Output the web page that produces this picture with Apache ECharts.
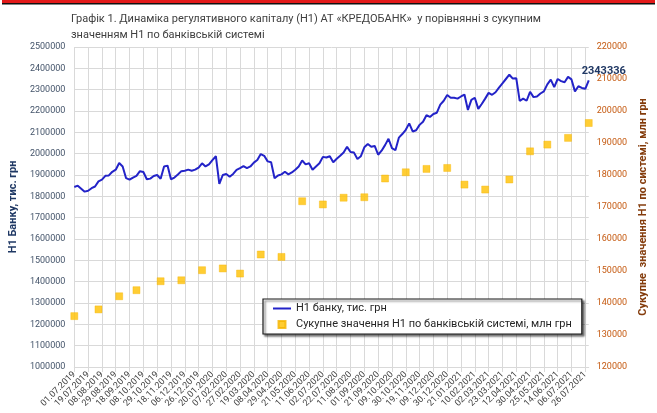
<!DOCTYPE html>
<html>
<head>
<meta charset="utf-8">
<script src="https://cdn.jsdelivr.net/npm/echarts@6/dist/echarts.min.js"></script>
<style>
    html, body { margin: 0; padding: 0; background: #fff; }
    #chart { width: 657px; height: 413px; }
</style>
</head>
<body>
<div id="chart"></div>
<script>
// підписи дат по осі X (кожні 14 робочих днів)
var dateLabels = [
    '01.07.2019', '19.07.2019', '08.08.2019', '29.08.2019', '18.09.2019', '08.10.2019',
    '29.10.2019', '18.11.2019', '06.12.2019', '26.12.2019', '20.01.2020', '07.02.2020',
    '27.02.2020', '19.03.2020', '08.04.2020', '29.04.2020', '21.05.2020', '11.06.2020',
    '02.07.2020', '22.07.2020', '11.08.2020', '01.09.2020', '21.09.2020', '09.10.2020',
    '30.10.2020', '19.11.2020', '09.12.2020', '30.12.2020', '21.01.2021', '10.02.2021',
    '02.03.2021', '23.03.2021', '12.04.2021', '30.04.2021', '25.05.2021', '14.06.2021',
    '06.07.2021', '26.07.2021'
];
var stepsPerLabel = 4;

// Н1 банку, тис. грн (приблизно кожні 3-4 робочі дні)
var h1Bank = [
    1844000, 1850000, 1836000, 1822000, 1826000, 1838000, 1846000, 1870000, 1878000, 1896000,
    1898000, 1915000, 1925000, 1956000, 1940000, 1885000, 1878000, 1888000, 1896000, 1918000,
    1914000, 1880000, 1883000, 1895000, 1900000, 1882000, 1940000, 1944000, 1880000, 1888000,
    1902000, 1918000, 1920000, 1925000, 1920000, 1925000, 1935000, 1955000, 1940000, 1950000,
    1970000, 1988000, 1858000, 1900000, 1905000, 1892000, 1905000, 1924000, 1932000, 1942000,
    1932000, 1940000, 1958000, 1970000, 1998000, 1990000, 1964000, 1960000, 1885000, 1898000,
    1903000, 1915000, 1903000, 1912000, 1925000, 1940000, 1968000, 1950000, 1955000, 1925000,
    1940000, 1955000, 1985000, 1982000, 1988000, 1960000, 1976000, 1990000, 2005000, 2032000,
    2008000, 2005000, 1975000, 1988000, 2030000, 2045000, 2032000, 2036000, 1995000, 2014000,
    2040000, 2070000, 2026000, 2016000, 2075000, 2092000, 2112000, 2142000, 2104000, 2110000,
    2135000, 2150000, 2180000, 2172000, 2186000, 2192000, 2230000, 2248000, 2275000, 2262000,
    2262000, 2258000, 2268000, 2277000, 2205000, 2252000, 2262000, 2210000, 2233000, 2258000,
    2285000, 2276000, 2288000, 2310000, 2330000, 2350000, 2370000, 2352000, 2354000, 2247000,
    2258000, 2248000, 2290000, 2265000, 2268000, 2282000, 2292000, 2325000, 2347000, 2312000,
    2350000, 2340000, 2335000, 2360000, 2348000, 2292000, 2316000, 2308000, 2304000, 2343336
];

// Сукупне значення Н1 по банківській системі, млн грн (щомісяця)
var systemAt = [0, 7, 13, 18, 25, 31, 37, 43, 48, 54, 60, 66, 72, 78, 84, 90, 96, 102, 108, 113, 119, 126, 132, 137, 143, 149];
var systemH1 = [
    135900, 138000, 142100, 144000, 146800, 147100, 150250, 150800, 149200, 155150,
    154400, 171800, 170800, 172900, 173050, 178900, 180850, 181900, 182200, 177000,
    175450, 178600, 187400, 189500, 191600, 196250
];

var bankName = 'Н1 банку, тис. грн';
var systemName = 'Сукупне значення Н1 по банківській системі, млн грн';
var fontName = 'Roboto, "Noto Sans", sans-serif';

var categories = [];
for (var i = 0; i < dateLabels.length; i++) {
    categories.push(dateLabels[i]);
    var pad = i < dateLabels.length - 1 ? stepsPerLabel - 1 : 1;
    for (var j = 0; j < pad; j++) {
        categories.push('');
    }
}

var systemData = systemH1.map(function (v, idx) {
    return [systemAt[idx], v];
});

var lastIdx = h1Bank.length - 1;

var isLabelTick = function (index) {
    return index % stepsPerLabel == 0;
};
var plainNumber = function (value) {
    return String(value);
};

var myChart = echarts.init(document.getElementById('chart'), null, { renderer: 'canvas' });
var option = {
    animation: false,
    backgroundColor: '#fff',
    textStyle: { fontFamily: fontName },
    title: {
        text: 'Графік 1. Динаміка регулятивного капіталу (Н1) АТ «КРЕДОБАНК»  у порівнянні з сукупним\nзначенням Н1 по банківській системі',
        left: 66,
        top: 6,
        textStyle: {
            fontSize: 11,
            fontWeight: 'normal',
            color: '#404040',
            lineHeight: 16,
            fontFamily: fontName
        }
    },
    // червона смуга вгорі
    graphic: [{
        type: 'rect',
        left: 2,
        top: 0,
        shape: { width: 653, height: 3 },
        style: { fill: '#e31a1a' },
        silent: true
    }, {
        type: 'rect',
        left: 2,
        top: 3,
        shape: { width: 653, height: 1.5 },
        style: { fill: '#111' },
        silent: true
    }],
    grid: {
        left: 64,
        right: 67,
        top: 47,
        bottom: 46
    },
    legend: {
        orient: 'vertical',
        left: 263,
        top: 299,
        padding: [4, 10, 4, 10],
        itemGap: 5,
        itemWidth: 18,
        itemHeight: 7,
        backgroundColor: '#fff',
        borderColor: '#1a1a1a',
        borderWidth: 1.2,
        shadowColor: 'rgba(0,0,0,0.55)',
        shadowBlur: 2,
        shadowOffsetX: 2,
        shadowOffsetY: 2,
        textStyle: { fontSize: 11, color: '#262626', fontFamily: fontName },
        data: [
            { name: bankName, icon: 'path://M0,0H18V2H0Z' },
            { name: systemName, icon: 'path://M0,0H10V10H0Z' }
        ]
    },
    xAxis: {
        type: 'category',
        boundaryGap: false,
        data: categories,
        axisLine: { lineStyle: { color: '#d9d9d9' } },
        axisTick: { show: true, interval: isLabelTick, length: 5, lineStyle: { color: '#d9d9d9' } },
        axisLabel: {
            interval: isLabelTick,
            rotate: 45,
            fontSize: 9,
            margin: 6,
            color: '#404040',
            fontFamily: fontName
        },
        splitLine: { show: true, interval: isLabelTick, lineStyle: { color: '#d9d9d9', width: 1 } }
    },
    yAxis: [{
        type: 'value',
        min: 1000000,
        max: 2500000,
        interval: 100000,
        name: 'Н1 Банку, тис. грн',
        nameLocation: 'middle',
        nameRotate: 90,
        nameGap: 47,
        nameTextStyle: { fontSize: 11, fontWeight: 'bold', color: '#1f3864', fontFamily: fontName },
        axisLine: { show: false },
        axisTick: { show: false },
        axisLabel: { fontSize: 9, color: '#44546a', margin: 9, fontFamily: fontName, formatter: plainNumber },
        splitLine: { lineStyle: { color: '#d9d9d9', width: 1 } }
    }, {
        type: 'value',
        min: 120000,
        max: 220000,
        interval: 10000,
        name: 'Сукупне  значення Н1 по системі, млн грн',
        nameLocation: 'middle',
        nameRotate: 90,
        nameGap: 47,
        nameTextStyle: { fontSize: 11, fontWeight: 'bold', color: '#843c0c', fontFamily: fontName },
        axisLine: { show: false },
        axisTick: { show: false },
        axisLabel: { fontSize: 9, color: '#c55a11', margin: 8, fontFamily: fontName, formatter: plainNumber },
        splitLine: { show: false }
    }],
    series: [{
        name: bankName,
        type: 'line',
        yAxisIndex: 0,
        symbol: 'none',
        color: '#2323c8',
        lineStyle: { width: 2, color: '#2323c8' },
        data: h1Bank,
        z: 3,
        // підпис останнього значення
        markPoint: {
            symbol: 'circle',
            symbolSize: 1,
            itemStyle: { color: 'rgba(0,0,0,0)' },
            label: {
                show: true,
                position: 'top',
                distance: 3,
                offset: [15, 0],
                color: '#203864',
                fontWeight: 'bold',
                fontSize: 11,
                fontFamily: fontName,
                formatter: function (p) { return String(p.value); }
            },
            data: [{ coord: [lastIdx, h1Bank[lastIdx]], value: h1Bank[lastIdx] }]
        }
    }, {
        name: systemName,
        type: 'scatter',
        yAxisIndex: 1,
        symbol: 'rect',
        symbolSize: 7,
        color: '#ffc000',
        itemStyle: { color: '#ffc000', borderColor: '#f5b400', borderWidth: 0.5 },
        data: systemData,
        z: 2
    }]
};
myChart.setOption(option);
</script>
</body>
</html>
